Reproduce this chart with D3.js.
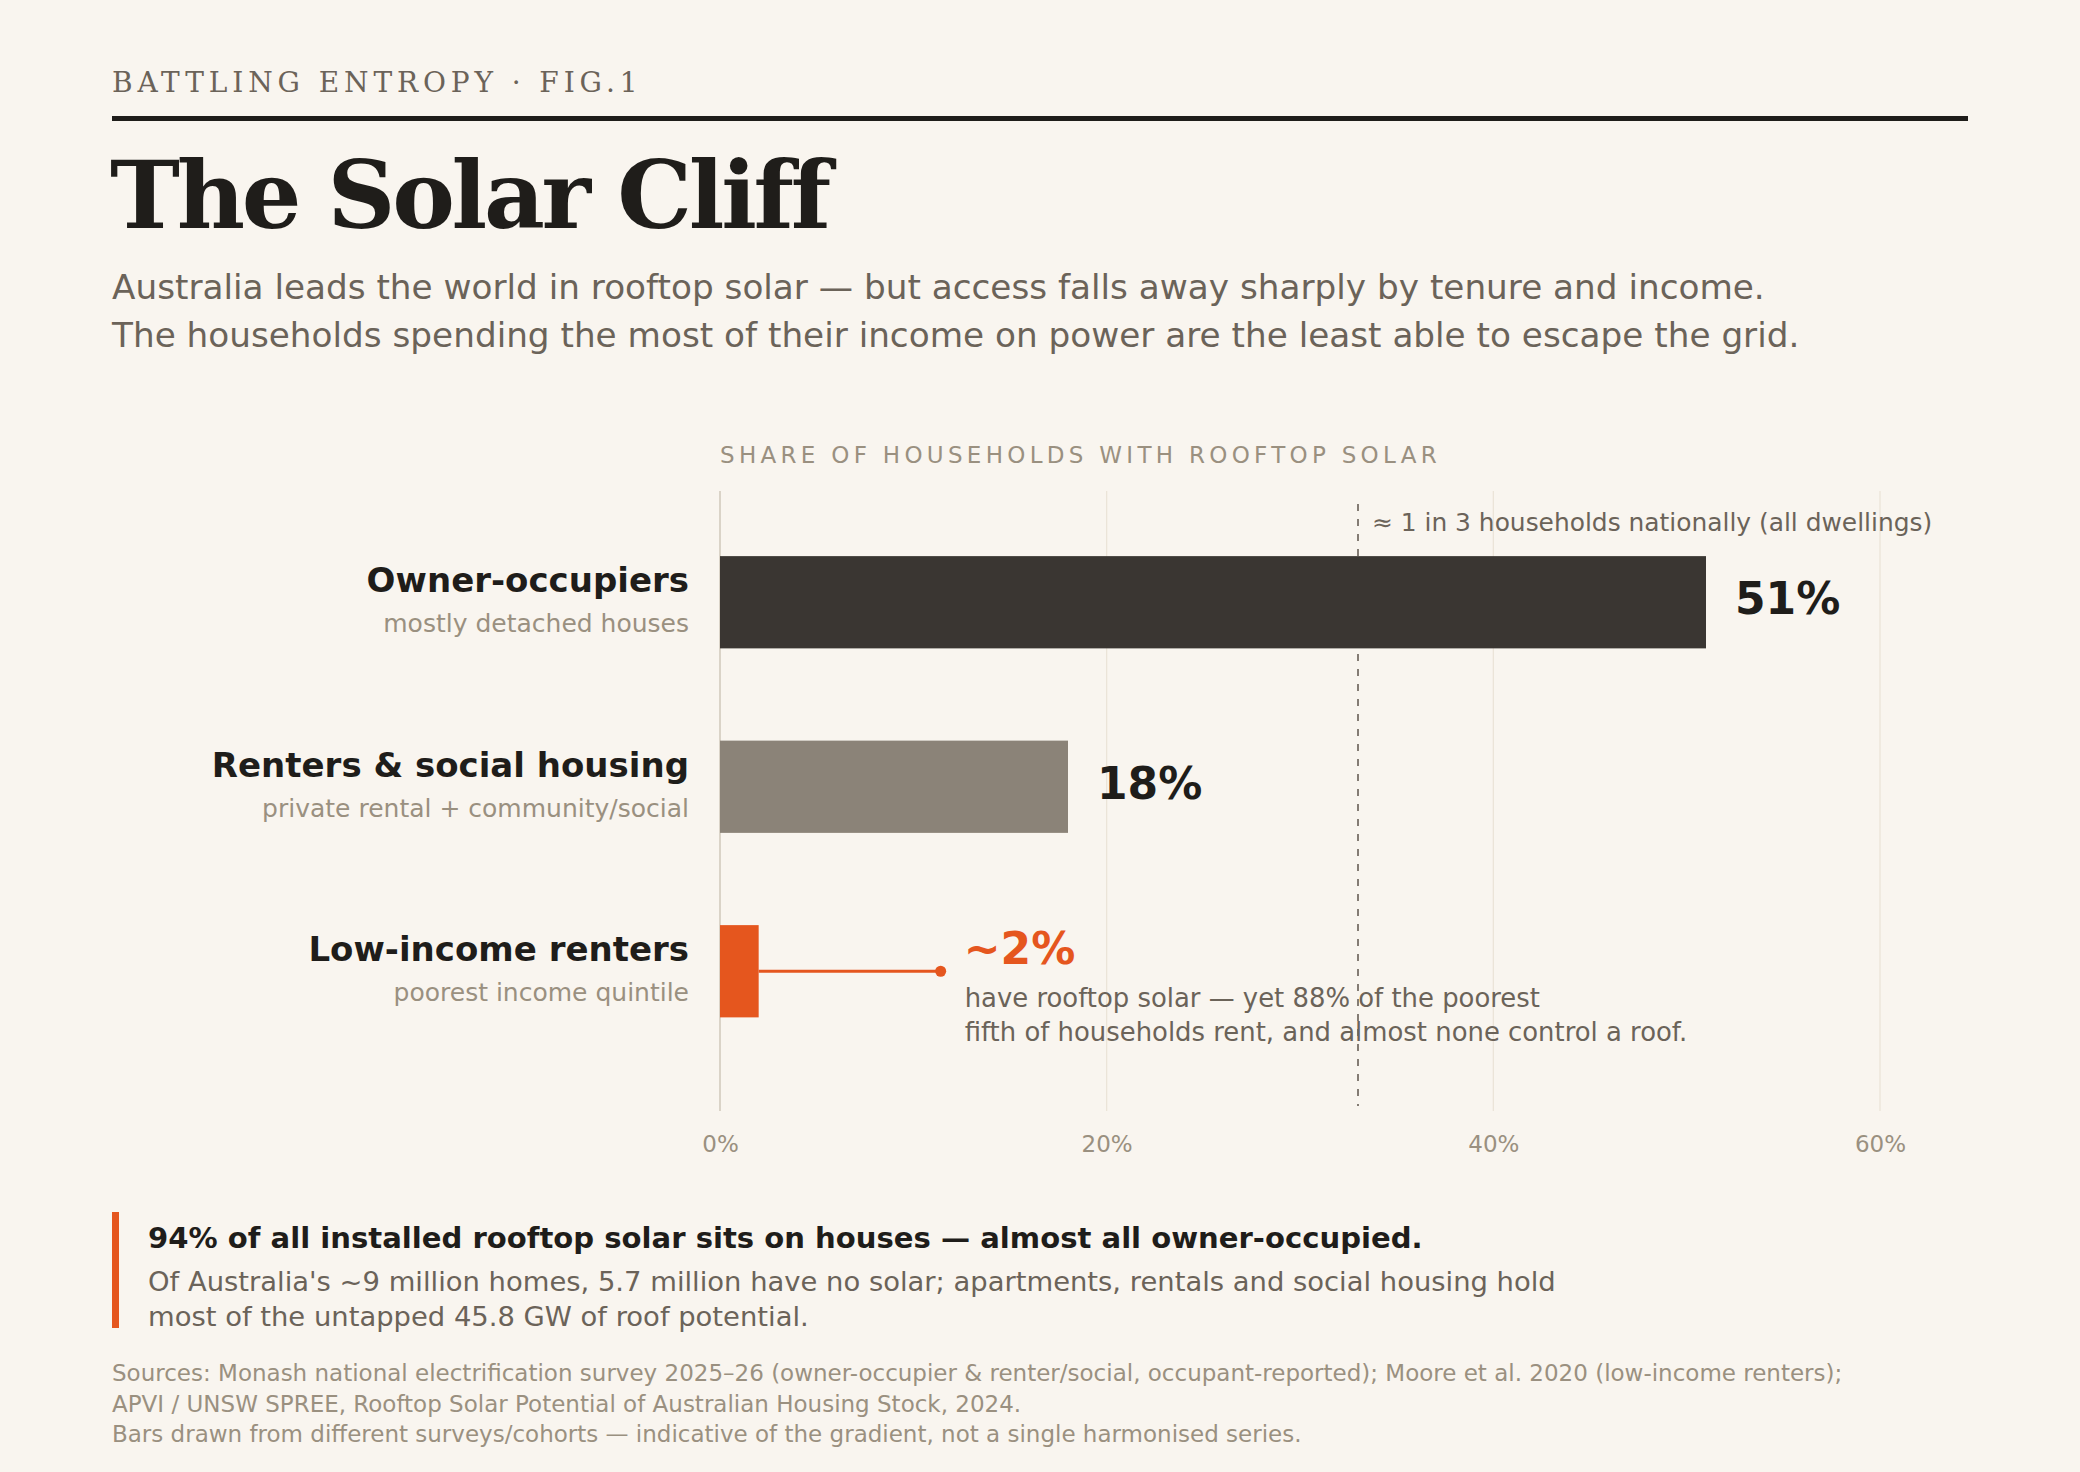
<!DOCTYPE html>
<html>
<head>
<meta charset="utf-8">
<script src="https://cdn.jsdelivr.net/npm/d3@7"></script>
<style>
  html, body { margin: 0; padding: 0; background: #f9f5ef; }
  svg { display: block; }
  text { font-family: "DejaVu Sans", sans-serif; }
  .serif { font-family: "DejaVu Serif", serif; }
</style>
</head>
<body>
<div id="chart"></div>
<script>
// data
var categories = ["Owner-occupiers", "Renters & social housing", "Low-income renters"];
var subLabels = ["mostly detached houses", "private rental + community/social", "poorest income quintile"];
var shares = [51, 18, 2];
var valueLabels = ["51%", "18%", "~2%"];
var barColors = ["#3a3632", "#8b8378", "#e5561e"];
var tickValues = [0, 20, 40, 60];
var nationalShare = 33;
var nationalNote = "≈ 1 in 3 households nationally (all dwellings)";
var lowIncomeNote = ["have rooftop solar — yet 88% of the poorest",
                     "fifth of households rent, and almost none control a roof."];
var subtitleLines = ["Australia leads the world in rooftop solar — but access falls away sharply by tenure and income.",
                     "The households spending the most of their income on power are the least able to escape the grid."];
var calloutHead = "94% of all installed rooftop solar sits on houses — almost all owner-occupied.";
var calloutLines = ["Of Australia's ~9 million homes, 5.7 million have no solar; apartments, rentals and social housing hold",
                    "most of the untapped 45.8 GW of roof potential."];
var sourceLines = ["Sources: Monash national electrification survey 2025–26 (owner-occupier & renter/social, occupant-reported); Moore et al. 2020 (low-income renters);",
                   "APVI / UNSW SPREE, Rooftop Solar Potential of Australian Housing Stock, 2024.",
                   "Bars drawn from different surveys/cohorts — indicative of the gradient, not a single harmonised series."];

var W = 2080, H = 1472;
var ink = "#1f1d1a", mid = "#6b6359", light = "#9a9080", orange = "#e5561e";

var svg = d3.select("#chart").append("svg")
    .attr("width", W).attr("height", H);

svg.append("rect").attr("width", W).attr("height", H).attr("fill", "#f9f5ef");

// header
svg.append("text").attr("class", "serif")
    .attr("x", 112).attr("y", 92)
    .attr("font-size", 28).attr("letter-spacing", 4.9)
    .attr("fill", mid)
    .text("BATTLING ENTROPY · FIG.1");

svg.append("rect").attr("x", 112).attr("y", 116).attr("width", 1856).attr("height", 5).attr("fill", ink);

svg.append("text").attr("class", "serif")
    .attr("x", 110).attr("y", 228)
    .attr("font-size", 94).attr("font-weight", "bold").attr("letter-spacing", -3.3)
    .attr("fill", ink)
    .text("The Solar Cliff");

svg.append("g").selectAll("text").data(subtitleLines).enter().append("text")
    .attr("x", 112).attr("y", function(d, i) { return 299 + i * 48; })
    .attr("font-size", 34.25).attr("fill", mid)
    .text(function(d) { return d; });

// scales
var x = d3.scaleLinear().domain([0, 60]).range([720, 1880]);
var y = d3.scaleBand().domain(categories).range([510, 1063.5]).paddingInner(0.5).paddingOuter(0.25);

var gridTop = 491, gridBottom = 1111;

svg.append("text")
    .attr("x", x(0)).attr("y", 463)
    .attr("font-size", 23).attr("letter-spacing", 4.3)
    .attr("fill", light)
    .text("SHARE OF HOUSEHOLDS WITH ROOFTOP SOLAR");

// grid
var grid = svg.append("g");
grid.selectAll("line").data(tickValues).enter().append("line")
    .attr("x1", function(d) { return x(d); }).attr("x2", function(d) { return x(d); })
    .attr("y1", gridTop).attr("y2", gridBottom)
    .attr("stroke", function(d) { return d === 0 ? "#cfc7ba" : "#ebe4d8"; })
    .attr("stroke-width", function(d) { return d === 0 ? 1.5 : 1.3; });

// axis labels
var axis = d3.axisBottom(x).tickValues(tickValues).tickSize(0).tickPadding(0)
    .tickFormat(function(d) { return d + "%"; });
var ax = svg.append("g").attr("transform", "translate(0," + 1152 + ")").call(axis);
ax.select(".domain").remove();
ax.selectAll("text")
    .attr("dy", 0).attr("y", 0)
    .attr("font-size", 23).attr("font-family", "DejaVu Sans")
    .attr("fill", light);

// national reference line
svg.append("line")
    .attr("x1", x(nationalShare)).attr("x2", x(nationalShare))
    .attr("y1", 504).attr("y2", 1106)
    .attr("stroke", "#847c74").attr("stroke-width", 2)
    .attr("stroke-dasharray", "7,8");

svg.append("text")
    .attr("x", x(nationalShare) + 14).attr("y", 531)
    .attr("font-size", 24.9).attr("fill", mid)
    .text(nationalNote);

// bars
svg.append("g").selectAll("rect").data(categories).enter().append("rect")
    .attr("x", x(0))
    .attr("y", function(d) { return y(d); })
    .attr("width", function(d, i) { return x(shares[i]) - x(0); })
    .attr("height", y.bandwidth())
    .attr("fill", function(d, i) { return barColors[i]; });

// category labels
var labels = svg.append("g");
labels.selectAll("text.cat").data(categories).enter().append("text")
    .attr("class", "cat")
    .attr("x", 689).attr("y", function(d) { return y(d) + y.bandwidth() / 2 - 10; })
    .attr("text-anchor", "end")
    .attr("font-size", 34).attr("font-weight", "bold").attr("fill", ink)
    .text(function(d) { return d; });
labels.selectAll("text.sub").data(subLabels).enter().append("text")
    .attr("class", "sub")
    .attr("x", 689).attr("y", function(d, i) { return y(categories[i]) + y.bandwidth() / 2 + 30; })
    .attr("text-anchor", "end")
    .attr("font-size", 25).attr("fill", light)
    .text(function(d) { return d; });

// value labels for the first two bars
svg.append("g").selectAll("text").data(categories.slice(0, 2)).enter().append("text")
    .attr("x", function(d, i) { return x(shares[i]) + 29; })
    .attr("y", function(d) { return y(d) + y.bandwidth() / 2 + 12; })
    .attr("font-size", 44).attr("font-weight", "bold").attr("fill", ink)
    .text(function(d, i) { return valueLabels[i]; });

// low-income callout
var low = categories[2];
var cy = y(low) + y.bandwidth() / 2;
var dotX = x(shares[2]) + 182;
svg.append("line")
    .attr("x1", x(shares[2])).attr("x2", dotX)
    .attr("y1", cy).attr("y2", cy)
    .attr("stroke", orange).attr("stroke-width", 3);
svg.append("circle").attr("cx", dotX).attr("cy", cy).attr("r", 5.5).attr("fill", orange);

svg.append("text")
    .attr("x", dotX + 23).attr("y", cy - 7)
    .attr("font-size", 44).attr("font-weight", "bold").attr("fill", orange)
    .text(valueLabels[2]);

svg.append("g").selectAll("text").data(lowIncomeNote).enter().append("text")
    .attr("x", dotX + 24).attr("y", function(d, i) { return 1007 + i * 34; })
    .attr("font-size", 25.9).attr("fill", mid)
    .text(function(d) { return d; });

// bottom callout
svg.append("rect").attr("x", 112).attr("y", 1212).attr("width", 7).attr("height", 116).attr("fill", orange);
svg.append("text")
    .attr("x", 148).attr("y", 1248)
    .attr("font-size", 29.1).attr("font-weight", "bold").attr("fill", ink)
    .text(calloutHead);
svg.append("g").selectAll("text").data(calloutLines).enter().append("text")
    .attr("x", 148).attr("y", function(d, i) { return 1291 + i * 35; })
    .attr("font-size", 27.4).attr("fill", mid)
    .text(function(d) { return d; });

// sources
svg.append("g").selectAll("text").data(sourceLines).enter().append("text")
    .attr("x", 112).attr("y", function(d, i) { return 1381 + i * 30.5; })
    .attr("font-size", 23).attr("fill", light)
    .text(function(d) { return d; });
</script>
</body>
</html>
